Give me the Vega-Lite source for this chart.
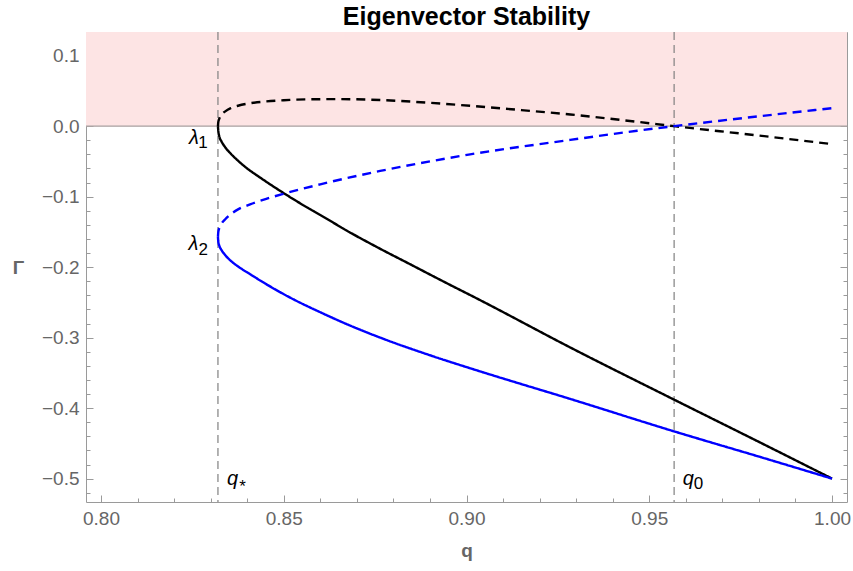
{
  "$schema": "https://vega.github.io/schema/vega-lite/v6.json",
  "width": 761,
  "height": 470,
  "autosize": "none",
  "padding": {"left": 86, "top": 32, "right": 6, "bottom": 69},
  "background": "white",
  "config": {
    "font": "Liberation Sans",
    "view": {"stroke": "#9a9a9a", "strokeWidth": 1},
    "axis": {
      "grid": false,
      "domain": false,
      "ticks": true,
      "zindex": 1,
      "tickColor": "#9a9a9a",
      "tickWidth": 1,
      "tickOpacity": 1,
      "labelColor": "#666666",
      "labelFont": "Liberation Sans",
      "labelFontSize": 19,
      "labelOverlap": false,
      "labelFlush": false,
      "titleColor": "#666666",
      "titleFont": "Liberation Sans",
      "titleFontSize": 19,
      "titleFontWeight": "bold"
    }
  },
  "title": {
    "text": "Eigenvector Stability",
    "font": "Liberation Sans",
    "fontSize": 25,
    "fontWeight": "bold",
    "color": "#000000",
    "anchor": "middle",
    "offset": 1
  },
  "datasets": {
    "curves": [
      {"series": "black", "branch": "stable", "q": 0.8320, "g": 0.0},
      {"series": "black", "branch": "stable", "q": 0.8321, "g": -0.007},
      {"series": "black", "branch": "stable", "q": 0.8324, "g": -0.015},
      {"series": "black", "branch": "stable", "q": 0.8330, "g": -0.022},
      {"series": "black", "branch": "stable", "q": 0.8340, "g": -0.030},
      {"series": "black", "branch": "stable", "q": 0.8355, "g": -0.039},
      {"series": "black", "branch": "stable", "q": 0.8375, "g": -0.049},
      {"series": "black", "branch": "stable", "q": 0.8400, "g": -0.060},
      {"series": "black", "branch": "stable", "q": 0.8430, "g": -0.071},
      {"series": "black", "branch": "stable", "q": 0.8470, "g": -0.085},
      {"series": "black", "branch": "stable", "q": 0.8506, "g": -0.097},
      {"series": "black", "branch": "stable", "q": 0.8550, "g": -0.111},
      {"series": "black", "branch": "stable", "q": 0.8600, "g": -0.126},
      {"series": "black", "branch": "stable", "q": 0.8682, "g": -0.151},
      {"series": "black", "branch": "stable", "q": 0.8764, "g": -0.174},
      {"series": "black", "branch": "stable", "q": 0.8850, "g": -0.197},
      {"series": "black", "branch": "stable", "q": 0.8928, "g": -0.218},
      {"series": "black", "branch": "stable", "q": 0.9038, "g": -0.247},
      {"series": "black", "branch": "stable", "q": 0.9284, "g": -0.314},
      {"series": "black", "branch": "stable", "q": 0.9568, "g": -0.388},
      {"series": "black", "branch": "stable", "q": 0.9808, "g": -0.450},
      {"series": "black", "branch": "stable", "q": 1.0, "g": -0.5},
      {"series": "black", "branch": "unstable", "q": 0.8320, "g": 0.0},
      {"series": "black", "branch": "unstable", "q": 0.8321, "g": 0.006},
      {"series": "black", "branch": "unstable", "q": 0.8324, "g": 0.011},
      {"series": "black", "branch": "unstable", "q": 0.8330, "g": 0.0165},
      {"series": "black", "branch": "unstable", "q": 0.8340, "g": 0.021},
      {"series": "black", "branch": "unstable", "q": 0.8355, "g": 0.0255},
      {"series": "black", "branch": "unstable", "q": 0.8375, "g": 0.029},
      {"series": "black", "branch": "unstable", "q": 0.8408, "g": 0.0325},
      {"series": "black", "branch": "unstable", "q": 0.8450, "g": 0.035},
      {"series": "black", "branch": "unstable", "q": 0.8500, "g": 0.0368},
      {"series": "black", "branch": "unstable", "q": 0.8575, "g": 0.0381},
      {"series": "black", "branch": "unstable", "q": 0.8650, "g": 0.0384},
      {"series": "black", "branch": "unstable", "q": 0.8764, "g": 0.0371},
      {"series": "black", "branch": "unstable", "q": 0.8900, "g": 0.0331},
      {"series": "black", "branch": "unstable", "q": 0.9019, "g": 0.0285},
      {"series": "black", "branch": "unstable", "q": 0.9150, "g": 0.0228},
      {"series": "black", "branch": "unstable", "q": 0.9284, "g": 0.0166},
      {"series": "black", "branch": "unstable", "q": 0.9467, "g": 0.0062},
      {"series": "black", "branch": "unstable", "q": 0.9568, "g": 0.0},
      {"series": "black", "branch": "unstable", "q": 0.9808, "g": -0.0138},
      {"series": "black", "branch": "unstable", "q": 1.0, "g": -0.0255},
      {"series": "blue", "branch": "stable", "q": 0.8320, "g": -0.157},
      {"series": "blue", "branch": "stable", "q": 0.8321, "g": -0.164},
      {"series": "blue", "branch": "stable", "q": 0.8324, "g": -0.170},
      {"series": "blue", "branch": "stable", "q": 0.8330, "g": -0.176},
      {"series": "blue", "branch": "stable", "q": 0.8340, "g": -0.183},
      {"series": "blue", "branch": "stable", "q": 0.8355, "g": -0.191},
      {"series": "blue", "branch": "stable", "q": 0.8375, "g": -0.199},
      {"series": "blue", "branch": "stable", "q": 0.8408, "g": -0.210},
      {"series": "blue", "branch": "stable", "q": 0.8450, "g": -0.2235},
      {"series": "blue", "branch": "stable", "q": 0.8490, "g": -0.2355},
      {"series": "blue", "branch": "stable", "q": 0.8526, "g": -0.2455},
      {"series": "blue", "branch": "stable", "q": 0.8600, "g": -0.264},
      {"series": "blue", "branch": "stable", "q": 0.8682, "g": -0.283},
      {"series": "blue", "branch": "stable", "q": 0.8764, "g": -0.300},
      {"series": "blue", "branch": "stable", "q": 0.8900, "g": -0.325},
      {"series": "blue", "branch": "stable", "q": 0.9038, "g": -0.348},
      {"series": "blue", "branch": "stable", "q": 0.9284, "g": -0.387},
      {"series": "blue", "branch": "stable", "q": 0.9568, "g": -0.433},
      {"series": "blue", "branch": "stable", "q": 0.9808, "g": -0.470},
      {"series": "blue", "branch": "stable", "q": 1.0, "g": -0.5},
      {"series": "blue", "branch": "unstable", "q": 0.8320, "g": -0.157},
      {"series": "blue", "branch": "unstable", "q": 0.8321, "g": -0.150},
      {"series": "blue", "branch": "unstable", "q": 0.8324, "g": -0.144},
      {"series": "blue", "branch": "unstable", "q": 0.8330, "g": -0.138},
      {"series": "blue", "branch": "unstable", "q": 0.8340, "g": -0.132},
      {"series": "blue", "branch": "unstable", "q": 0.8355, "g": -0.125},
      {"series": "blue", "branch": "unstable", "q": 0.8375, "g": -0.118},
      {"series": "blue", "branch": "unstable", "q": 0.8408, "g": -0.111},
      {"series": "blue", "branch": "unstable", "q": 0.8450, "g": -0.1035},
      {"series": "blue", "branch": "unstable", "q": 0.8499, "g": -0.096},
      {"series": "blue", "branch": "unstable", "q": 0.8600, "g": -0.0825},
      {"series": "blue", "branch": "unstable", "q": 0.8764, "g": -0.0635},
      {"series": "blue", "branch": "unstable", "q": 0.8900, "g": -0.050},
      {"series": "blue", "branch": "unstable", "q": 0.9010, "g": -0.040},
      {"series": "blue", "branch": "unstable", "q": 0.9284, "g": -0.0195},
      {"series": "blue", "branch": "unstable", "q": 0.9467, "g": -0.0065},
      {"series": "blue", "branch": "unstable", "q": 0.9568, "g": 0.0},
      {"series": "blue", "branch": "unstable", "q": 0.9808, "g": 0.0145},
      {"series": "blue", "branch": "unstable", "q": 1.0, "g": 0.0255}
    ],
    "vlines": [
      {"name": "q*", "q": 0.832},
      {"name": "q0", "q": 0.9568}
    ],
    "labels": [
      {"text": "λ", "q": 0.8254, "g": -0.026},
      {"text": "λ", "q": 0.82527, "g": -0.1752},
      {"text": "q", "q": 0.8360, "g": -0.5097},
      {"text": "q", "q": 0.96071, "g": -0.5097}
    ],
    "subs": [
      {"text": "1", "q": 0.82792, "g": -0.0316},
      {"text": "2", "q": 0.8280, "g": -0.1823},
      {"text": "*", "q": 0.83874, "g": -0.5196},
      {"text": "0", "q": 0.96344, "g": -0.5153}
    ]
  },
  "layer": [
    {
      "data": {"values": [{"lo": 0, "hi": 0.1336}]},
      "mark": {"type": "rect", "color": "#fde4e4", "opacity": 1},
      "encoding": {
        "y": {
          "field": "lo", "type": "quantitative",
          "scale": {"domain": [-0.5332, 0.1336], "nice": false, "zero": false},
          "axis": {
            "orient": "right", "title": null, "labels": false,
            "values": [-0.5, -0.4, -0.3, -0.2, -0.1, 0, 0.1],
            "tickSize": 7, "offset": -7
          }
        },
        "y2": {"field": "hi"},
        "x": {
          "datum": 0.7959, "type": "quantitative",
          "scale": {"domain": [0.7959, 1.0041], "nice": false, "zero": false},
          "axis": {
            "orient": "top", "title": null, "labels": false,
            "values": [0.8, 0.85, 0.9, 0.95, 1.0],
            "tickSize": 7, "offset": -7
          }
        },
        "x2": {"datum": 1.0041}
      }
    },
    {
      "data": {"values": [{"g": 0}]},
      "mark": {"type": "rule", "color": "#a8a0a0", "strokeWidth": 1.3},
      "encoding": {
        "y": {
          "field": "g", "type": "quantitative",
          "axis": {
            "orient": "left", "title": null, "labels": false,
            "values": [-0.52,-0.48,-0.46,-0.44,-0.42,-0.38,-0.36,-0.34,-0.32,-0.28,-0.26,-0.24,-0.22,-0.18,-0.16,-0.14,-0.12,-0.08,-0.06,-0.04,-0.02,0.02,0.04,0.06,0.08,0.12],
            "tickSize": 4, "offset": -4
          }
        }
      }
    },
    {
      "data": {"name": "vlines"},
      "mark": {"type": "rule", "color": "#808080", "strokeWidth": 1.2, "strokeDash": [8, 5]},
      "encoding": {
        "x": {
          "field": "q", "type": "quantitative",
          "axis": {
            "orient": "bottom", "title": null, "labels": false,
            "values": [0.81,0.82,0.83,0.84,0.86,0.87,0.88,0.89,0.91,0.92,0.93,0.94,0.96,0.97,0.98,0.99],
            "tickSize": 4, "offset": -4
          }
        }
      }
    },
    {
      "data": {"name": "curves"},
      "mark": {"type": "line", "strokeWidth": 2.4, "interpolate": "monotone", "clip": true},
      "encoding": {
        "x": {
          "field": "q", "type": "quantitative",
          "axis": {
            "orient": "bottom", "title": "q",
            "values": [0.8, 0.85, 0.9, 0.95, 1.0],
            "format": ".2f",
            "tickSize": 7, "offset": -7,
            "labelPadding": 7,
            "titleY": 55,
            "titleBaseline": "middle"
          }
        },
        "y": {
          "field": "g", "type": "quantitative",
          "axis": {
            "orient": "left", "title": "Γ",
            "values": [-0.5, -0.4, -0.3, -0.2, -0.1, 0, 0.1],
            "format": ".1f",
            "tickSize": 7, "offset": -7,
            "labelPadding": 7,
            "titleAngle": 0,
            "titleAlign": "center",
            "titleBaseline": "middle",
            "titleX": -75,
            "titleY": 235
          }
        },
        "color": {
          "field": "series", "type": "nominal",
          "scale": {"domain": ["black", "blue"], "range": ["#000000", "#0000ff"]},
          "legend": null
        },
        "strokeDash": {
          "field": "branch", "type": "nominal",
          "scale": {"domain": ["stable", "unstable"], "range": [[1, 0], [9, 6]]},
          "legend": null
        }
      }
    },
    {
      "data": {"name": "labels"},
      "mark": {"type": "text", "font": "Liberation Sans", "fontSize": 20, "fontStyle": "italic", "color": "#000000", "align": "center", "baseline": "alphabetic"},
      "encoding": {
        "x": {
          "field": "q", "type": "quantitative",
          "axis": {
            "orient": "top", "title": null, "labels": false,
            "values": [0.81,0.82,0.83,0.84,0.86,0.87,0.88,0.89,0.91,0.92,0.93,0.94,0.96,0.97,0.98,0.99],
            "tickSize": 4, "offset": -4
          }
        },
        "y": {
          "field": "g", "type": "quantitative",
          "axis": {
            "orient": "right", "title": null, "labels": false,
            "values": [-0.52,-0.48,-0.46,-0.44,-0.42,-0.38,-0.36,-0.34,-0.32,-0.28,-0.26,-0.24,-0.22,-0.18,-0.16,-0.14,-0.12,-0.08,-0.06,-0.04,-0.02,0.02,0.04,0.06,0.08,0.12],
            "tickSize": 4, "offset": -4
          }
        },
        "text": {"field": "text"}
      }
    },
    {
      "data": {"name": "subs"},
      "mark": {"type": "text", "font": "Liberation Sans", "fontSize": 17, "color": "#000000", "align": "center", "baseline": "alphabetic"},
      "encoding": {
        "x": {"field": "q", "type": "quantitative", "axis": null},
        "y": {"field": "g", "type": "quantitative", "axis": null},
        "text": {"field": "text"}
      }
    }
  ],
  "resolve": {"axis": {"x": "independent", "y": "independent"}}
}
